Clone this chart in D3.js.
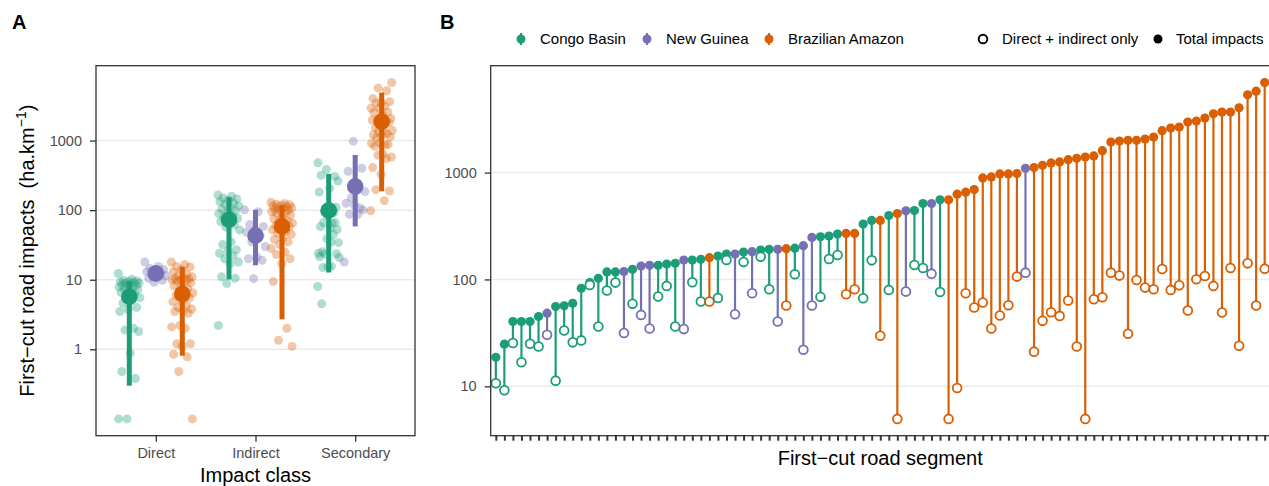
<!DOCTYPE html>
<html>
<head>
<meta charset="utf-8">
<script src="https://cdn.jsdelivr.net/npm/d3@7"></script>
<style>
  body { margin: 0; background: #fff; overflow: hidden; }
  text { font-family: "Liberation Sans", Arial, sans-serif; }
</style>
</head>
<body>
<svg id="fig" width="1269" height="486"></svg>
<script>
// Regions and impact classes
const regions = ['Congo Basin', 'New Guinea', 'Brazilian Amazon'];
const regionCodes = ['C', 'N', 'B'];
const regionColors = ['#1b9e77', '#7570b3', '#d95f02'];
const classes = ['Direct', 'Indirect', 'Secondary'];

// Panel A: direct impacts per segment (ha/km)
const directCongo = [12.3, 10.2, 9.8, 9.6, 9.4, 9.3, 9.2, 9.0, 8.9, 8.7, 8.5, 8.3, 8.1, 7.9, 7.6, 7.4, 7.2, 7.0,
  6.6, 6.2, 5.8, 5.5, 5.0, 4.6, 4.0, 3.7, 3.5, 2.0, 1.9, 1.8, 0.88, 0.48, 0.38, 0.1, 0.1];
const directGuinea = [18, 15.5, 14.5, 14, 13.5, 13, 12.5, 12, 11.5, 11, 10.5, 9.8, 9.2];
const directAmazon = [18, 16.5, 15.5, 15.3, 14, 13, 12, 11.5, 11, 10.8, 10.4, 10.2, 10, 10, 9.8, 9.5, 9.0, 8.5,
  8.1, 7.5, 7.0, 6.5, 6.2, 6.0, 5.5, 5.0, 4.8, 4.3, 4.0, 3.8, 3.6, 3.5, 3.3, 2.2, 2.1, 2.0, 1.2, 1.2, 1.1,
  0.85, 0.78, 0.48, 0.1];

// Panel A: indirect impacts per segment
const indirectCongo = [165, 158, 150, 145, 138, 132, 126, 120, 115, 110, 104, 98, 92, 89, 84, 80, 76, 72, 68,
  62, 57, 52, 35, 32, 27, 26, 24, 22, 20, 18, 17, 11, 10.5, 8.8, 2.2];
const indirectGuinea = [101, 95, 62, 58, 52, 48, 43, 35, 30, 21, 20, 19, 10.4];
const indirectAmazon = [130, 125, 122, 120, 118, 115, 112, 110, 108, 105, 102, 100, 98, 95, 92, 90, 85, 80,
  75, 70, 68, 65, 62, 60, 58, 55, 52, 50, 47, 45, 40, 38, 35, 32, 28, 25, 23, 20, 17, 9.4, 2.0, 1.35, 1.1];

// Panel A: summary (centre point and interval) by class, then region
const summaryMid = [[5.7, 12.3, 6.2], [72.8, 43, 58.4], [99, 219, 1866]];
const summaryLow = [[0.30, 9.5, 0.81], [10.1, 16.1, 2.7], [12.7, 58.4, 187]];
const summaryHigh = [[9.5, 16, 15.2], [153, 101, 117], [332, 622, 4900]];

// Panel B: segments sorted by total impact
const segmentRegion = ('CCCCCCNCCCCCCCCNCNNCCCNCCBCCNCNCCNBCNNCCCBBCCBCBNCCNCBBBBBBBBBN' +
  'BBBBBBBBBBBBBBBBBBBBBBBBBBBB').split('');
const segmentTotal = [18.7, 24.8, 40.4, 40.4, 40.4, 45.0, 48.4, 55.8, 56.6, 59.9, 82.7, 93.4, 102.5, 117.5,
  117.5, 118.4, 124.4, 133.6, 135.6, 135.6, 139.5, 141.5, 152, 152, 154.2, 159.8, 165.7, 172.9, 172.9,
  180.5, 181.8, 188.5, 191.2, 191.2, 194, 196, 206.8, 247.4, 250.9, 254.6, 265.7, 269.6, 269.6, 329.4,
  356.4, 356.4, 396.7, 414.2, 438.6, 441.8, 513.5, 513.5, 555.5, 555.5, 627.6, 655.1, 693.7, 891.2,
  910.6, 971.1, 971.1, 978, 1097, 1113, 1170, 1230, 1257, 1321, 1360, 1399, 1430, 1603, 1931, 1973,
  2001, 2001, 2060, 2150, 2463, 2609, 2666, 2968, 3032, 3233, 3548, 3678, 3678, 4036, 5337, 5774, 6957];
const segmentDirectIndirect = [10.7, 9.2, 25.4, 16.8, 25.0, 23.6, 30.4, 11.3, 33.3, 25.8, 26.9, 88.9, 36.3,
  78.7, 93.4, 31.5, 59.1, 46.6, 34.8, 69.2, 87.0, 36.3, 34.3, 94.1, 62.1, 62.1, 67.2, 152, 47.3, 145.6,
  74.3, 163.3, 80.9, 40.4, 57.0, 111.7, 22.0, 57.0, 68.7, 155.3, 169.3, 72.7, 80.9, 66.7, 150.9, 29.7,
  79.8, 4.96, 77.0, 136.5, 128.0, 113.3, 76.4, 4.96, 9.66, 74.3, 54.6, 60.8, 34.8, 46.0, 57.4, 106.3,
  115.8, 21.1, 41.0, 49.4, 45.6, 63.5, 23.6, 4.96, 65.3, 68.2, 115.8, 108.6, 31.0, 98.9, 83.9, 80.9,
  125.3, 79.8, 88.2, 51.2, 100.4, 107.8, 87.0, 49.1, 128.0, 24.0, 141.5, 57.0, 126.2];

// ---- build tables ----
const segments = segmentTotal.map((t, i) => ({
  i: i,
  region: regionCodes.indexOf(segmentRegion[i]),
  total: t,
  di: segmentDirectIndirect[i]
}));

// secondary impacts = total minus direct + indirect, per region
const secondaryBy = regionCodes.map((c, r) =>
  segments.filter(s => s.region === r).map(s => s.total - s.di));

const pointsA = [];
[[directCongo, directGuinea, directAmazon],
 [indirectCongo, indirectGuinea, indirectAmazon],
 secondaryBy].forEach((byRegion, ci) => {
  byRegion.forEach((vals, r) => {
    vals.forEach((v, k) => pointsA.push({ cls: classes[ci], region: r, value: v, k: k }));
  });
});

const summaries = [];
classes.forEach((c, ci) => regions.forEach((reg, r) => summaries.push({
  cls: c, region: r, mid: summaryMid[ci][r], lo: summaryLow[ci][r], hi: summaryHigh[ci][r]
})));

const svg = d3.select('#fig');
const font = '"Liberation Sans", Arial, sans-serif';

function paddedLogDomain(values) {
  const lo = Math.log10(d3.min(values));
  const hi = Math.log10(d3.max(values));
  const pad = (hi - lo) * 0.05;
  return [Math.pow(10, lo - pad), Math.pow(10, hi + pad)];
}

function styleAxis(g) {
  g.select('.domain').remove();
  g.selectAll('.tick line').attr('stroke', '#333').attr('stroke-width', 1.3);
  g.selectAll('.tick text').attr('fill', '#4d4d4d').style('font-size', '14.5px').style('font-family', font);
}

// ================= Panel A =================
const A = { left: 96, right: 415, top: 65.7, bottom: 435.7 };

const yA = d3.scaleLog()
  .domain(paddedLogDomain(pointsA.map(d => d.value)))
  .range([A.bottom, A.top]);
const xA = d3.scalePoint().domain(classes).range([A.left, A.right]).padding(0.6);
const dodge = d3.scalePoint().domain(d3.range(regions.length)).range([-26.5, 26.5]);
const ticksA = [1, 10, 100, 1000];

const gA = svg.append('g');

gA.selectAll('.gridA')
  .data(ticksA)
  .enter()
  .append('line')
  .attr('x1', A.left).attr('x2', A.right)
  .attr('y1', d => yA(d)).attr('y2', d => yA(d))
  .attr('stroke', '#ebebeb')
  .attr('stroke-width', 1.5);

// jittered raw points (deterministic spread)
gA.selectAll('.pt')
  .data(pointsA)
  .enter()
  .append('circle')
  .attr('cx', d => xA(d.cls) + dodge(d.region) + (((d.k * 0.6180339887) % 1) - 0.5) * 22)
  .attr('cy', d => yA(d.value))
  .attr('r', 4.5)
  .attr('fill', d => regionColors[d.region])
  .attr('fill-opacity', 0.35);

gA.selectAll('.range')
  .data(summaries)
  .enter()
  .append('line')
  .attr('x1', d => xA(d.cls) + dodge(d.region))
  .attr('x2', d => xA(d.cls) + dodge(d.region))
  .attr('y1', d => yA(d.lo))
  .attr('y2', d => yA(d.hi))
  .attr('stroke', d => regionColors[d.region])
  .attr('stroke-width', 5);

gA.selectAll('.mid')
  .data(summaries)
  .enter()
  .append('circle')
  .attr('cx', d => xA(d.cls) + dodge(d.region))
  .attr('cy', d => yA(d.mid))
  .attr('r', 8.3)
  .attr('fill', d => regionColors[d.region]);

gA.append('rect')
  .attr('x', A.left).attr('y', A.top)
  .attr('width', A.right - A.left).attr('height', A.bottom - A.top)
  .attr('fill', 'none').attr('stroke', '#333').attr('stroke-width', 1.3);

gA.append('g')
  .attr('transform', `translate(${A.left},0)`)
  .call(d3.axisLeft(yA).tickValues(ticksA).tickFormat(d3.format('d')).tickSize(6).tickPadding(8))
  .call(styleAxis);

gA.append('g')
  .attr('transform', `translate(0,${A.bottom})`)
  .call(d3.axisBottom(xA).tickSize(6).tickPadding(6))
  .call(styleAxis);

gA.append('text')
  .attr('x', (A.left + A.right) / 2).attr('y', 482)
  .attr('text-anchor', 'middle')
  .style('font-size', '20px')
  .text('Impact class');

const yTitle = gA.append('text')
  .attr('transform', `translate(34,${(A.top + A.bottom) / 2}) rotate(-90)`)
  .attr('text-anchor', 'middle')
  .style('font-size', '20px')
  .style('white-space', 'pre');
yTitle.append('tspan').text('First\u2212cut road impacts  (ha.km');
yTitle.append('tspan').attr('dy', -8).style('font-size', '14px').text('\u22121');
yTitle.append('tspan').attr('dy', 8).text(')');

svg.append('text').attr('x', 12).attr('y', 29)
  .style('font-size', '20px').style('font-weight', 'bold').text('A');

// ================= Panel B =================
const B = { left: 490.7, right: 1269.8, top: 65.7, bottom: 435.7 };

const yB = d3.scaleLog()
  .domain(paddedLogDomain(segments.flatMap(d => [d.total, d.di])))
  .range([B.bottom, B.top]);
const xB = d3.scalePoint().domain(segments.map(d => d.i)).range([B.left, B.right]).padding(0.6);
const ticksB = [10, 100, 1000];

const gB = svg.append('g');

gB.selectAll('.gridB')
  .data(ticksB)
  .enter()
  .append('line')
  .attr('x1', B.left).attr('x2', B.right)
  .attr('y1', d => yB(d)).attr('y2', d => yB(d))
  .attr('stroke', '#ebebeb')
  .attr('stroke-width', 1.5);

gB.selectAll('.seg')
  .data(segments)
  .enter()
  .append('line')
  .attr('x1', d => xB(d.i)).attr('x2', d => xB(d.i))
  .attr('y1', d => yB(d.total)).attr('y2', d => yB(d.di))
  .attr('stroke', d => regionColors[d.region])
  .attr('stroke-width', 2.2);

gB.selectAll('.tot')
  .data(segments)
  .enter()
  .append('circle')
  .attr('cx', d => xB(d.i))
  .attr('cy', d => yB(d.total))
  .attr('r', 4.6)
  .attr('fill', d => regionColors[d.region]);

gB.selectAll('.di')
  .data(segments)
  .enter()
  .append('circle')
  .attr('cx', d => xB(d.i))
  .attr('cy', d => yB(d.di))
  .attr('r', 4.4)
  .attr('fill', '#fff')
  .attr('stroke', d => regionColors[d.region])
  .attr('stroke-width', 1.8);

gB.append('rect')
  .attr('x', B.left).attr('y', B.top)
  .attr('width', B.right - B.left).attr('height', B.bottom - B.top)
  .attr('fill', 'none').attr('stroke', '#333').attr('stroke-width', 1.3);

gB.append('g')
  .attr('transform', `translate(${B.left},0)`)
  .call(d3.axisLeft(yB).tickValues(ticksB).tickFormat(d3.format('d')).tickSize(6).tickPadding(8))
  .call(styleAxis);

gB.append('g')
  .attr('transform', `translate(0,${B.bottom})`)
  .call(d3.axisBottom(xB).tickSize(5).tickFormat(''))
  .call(styleAxis)
  .selectAll('.tick line').attr('stroke-width', 2);

gB.append('text')
  .attr('x', (B.left + B.right) / 2).attr('y', 465)
  .attr('text-anchor', 'middle')
  .style('font-size', '20px')
  .text('First\u2212cut road segment');

svg.append('text').attr('x', 440).attr('y', 29)
  .style('font-size', '20px').style('font-weight', 'bold').text('B');

// Legend
const legY = 39;
const regionKeyX = [521, 647, 769];
const legend = svg.append('g');
regions.forEach((name, r) => {
  const kx = regionKeyX[r];
  legend.append('line')
    .attr('x1', kx).attr('x2', kx).attr('y1', legY - 6).attr('y2', legY + 6)
    .attr('stroke', regionColors[r]).attr('stroke-width', 2.2);
  legend.append('circle').attr('cx', kx).attr('cy', legY).attr('r', 4.5).attr('fill', regionColors[r]);
  legend.append('text').attr('x', kx + 19).attr('y', legY + 5.3)
    .style('font-size', '15px').text(name);
});
legend.append('circle').attr('cx', 983).attr('cy', legY).attr('r', 4.3)
  .attr('fill', '#fff').attr('stroke', '#000').attr('stroke-width', 1.9);
legend.append('text').attr('x', 1002).attr('y', legY + 5.3)
  .style('font-size', '15px').text('Direct + indirect only');
legend.append('circle').attr('cx', 1158).attr('cy', legY).attr('r', 4.5).attr('fill', '#000');
legend.append('text').attr('x', 1176).attr('y', legY + 5.3)
  .style('font-size', '15px').text('Total impacts');
</script>
</body>
</html>
